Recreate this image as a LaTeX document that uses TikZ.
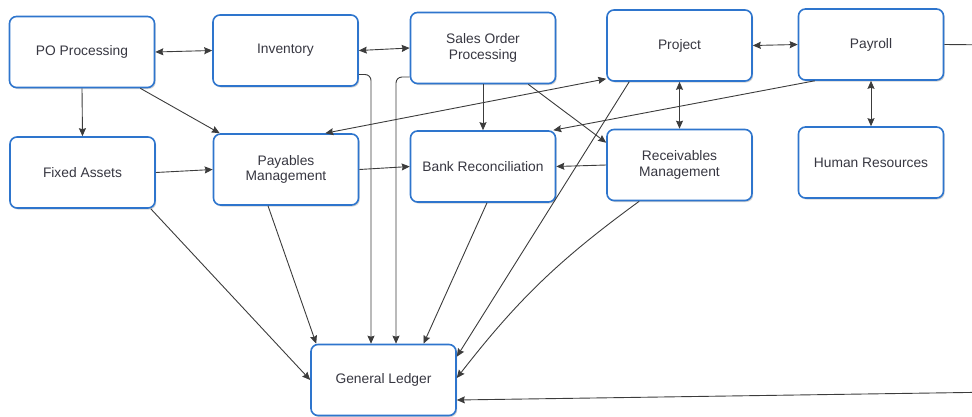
\documentclass[tikz,border=0pt]{standalone}
\usepackage{fontspec}
\setmainfont{Liberation Sans}
\usepackage{xcolor}
\usepackage{tikz}
\usetikzlibrary{positioning,calc,arrows.meta,shadows}
\definecolor{boxblue}{RGB}{46,117,205}
\definecolor{linegray}{RGB}{60,60,60}
\definecolor{textgray}{RGB}{55,55,65}
\tikzset{
    module/.style={draw=boxblue, line width=1.6pt, rounded corners=7pt, fill=white,
        minimum width=145pt, minimum height=71pt, align=center, text=textgray,
        font=\fontsize{13.8}{15.5}\selectfont,
        drop shadow={shadow xshift=1.2pt, shadow yshift=-1.5pt, fill=black!35}},
    flow/.style={linegray, line width=0.9pt, -{Stealth[length=8pt,width=7pt,inset=1pt]}},
    twoway/.style={linegray, line width=0.9pt, {Stealth[length=8pt,width=7pt,inset=1pt]}-{Stealth[length=8pt,width=7pt,inset=1pt]}}
}

\begin{document}
\begin{tikzpicture}[x=1pt, y=-1pt]
    \useasboundingbox (0,0) rectangle (972,416);

    % Modules, top row
    \node [module] (po) at (82,52) {PO Processing};
    \node [module] (inv) at (285.5,50.5) {Inventory};
    \node [module] (sop) at (483,48) {Sales Order\\Processing};
    \node [module] (proj) at (679.5,45.5) {Project};
    \node [module] (pay) at (871,44.5) {Payroll};

    % Modules, second row
    \node [module] (fa) at (82.5,172.5) {Fixed Assets};
    \node [module] (apm) at (286,169.5) {Payables\\Management};
    \node [module] (bank) at (483,166.5) {Bank Reconciliation};
    \node [module] (arm) at (679.5,165) {Receivables\\Management};
    \node [module] (hr) at (871,162.5) {Human Resources};

    % General ledger
    \node [module] (gl) at (383.5,380) {General Ledger};

    % Links between the rows
    \draw [twoway] (po.east) -- (inv.west);
    \draw [twoway] (inv.east) -- (sop.west);
    \draw [twoway] (proj.east) -- (pay.west);
    \draw [flow] (po.south) -- (fa.north);
    \draw [flow] ([xshift=-15pt]po.south east) -- ([xshift=7pt]apm.north west);
    \draw [flow] (fa.east) -- (apm.west);
    \draw [flow] (apm.east) -- (bank.west);
    \draw [flow] (arm.west) -- (bank.east);
    \draw [flow] (sop.south) -- (bank.north);
    \draw [flow] ([xshift=-28pt]sop.south east) -- ([yshift=-14pt]arm.north west);
    \draw [twoway] (proj.south) -- (arm.north);
    \draw [twoway] (pay.south) -- (hr.north);
    \draw [twoway] ([xshift=-34pt]apm.north east) -- ([yshift=3pt]proj.south west);
    \draw [flow] ([xshift=17pt]pay.south west) -- ([xshift=-3pt]bank.north east);

    % Everything posts to the general ledger
    \draw [flow] ([xshift=-5pt]fa.south east) -- (gl.west);
    \draw [flow] ([xshift=-18pt]apm.south) -- ([xshift=6pt]gl.north west);
    \draw [flow, rounded corners=6pt] ([yshift=-24pt]inv.east) -| ([xshift=-12.5pt]gl.north);
    \draw [flow, rounded corners=6pt] ([yshift=-29pt]sop.west) -| ([xshift=12.5pt]gl.north);
    \draw [flow] ([xshift=4pt]bank.south) -- ([xshift=40pt]gl.north);
    \draw [flow] ([xshift=23pt]proj.south west) -- ([yshift=-13pt]gl.north east);
    \draw [flow] ([xshift=33pt]arm.south west) to [bend right=8] ([yshift=2pt]gl.east);
    \coordinate (payout) at (1000,45);
    \coordinate (payturn) at (1000,392);
    \draw [flow] (pay.east) -- (payout) -- (payturn) -- ([yshift=-20pt]gl.east);
\end{tikzpicture}
\end{document}
